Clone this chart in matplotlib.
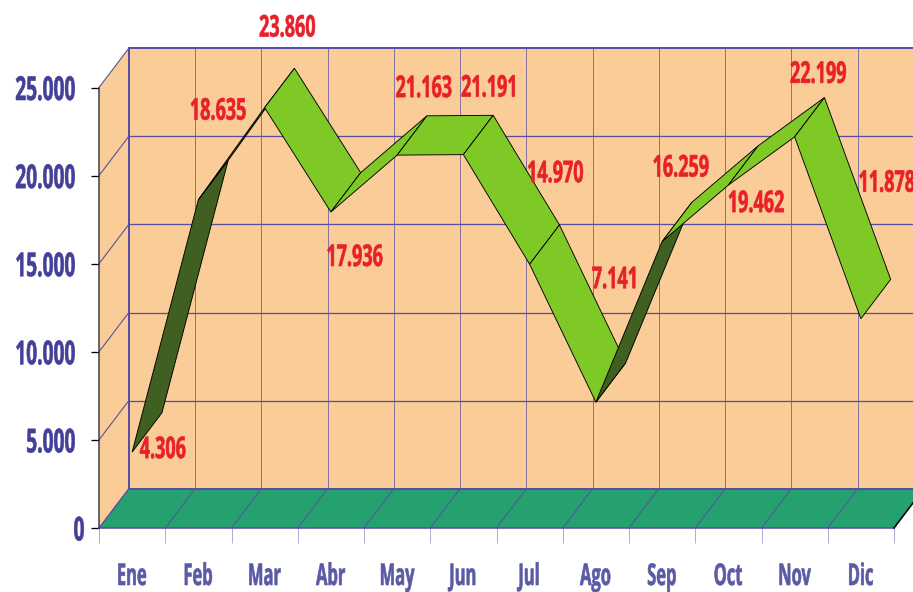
import matplotlib
matplotlib.use('Agg')
import matplotlib.pyplot as plt
from matplotlib.patches import Polygon
from matplotlib.patheffects import AbstractPathEffect
from matplotlib.transforms import Affine2D, Bbox, ScaledTranslation

months = ['Ene', 'Feb', 'Mar', 'Abr', 'May', 'Jun', 'Jul', 'Ago', 'Sep', 'Oct', 'Nov', 'Dic']
values = [4306, 18635, 23860, 17936, 21163, 21191, 14970, 7141, 16259, 19462, 22199, 11878]
y_ticks = [0, 5000, 10000, 15000, 20000, 25000]

W, H = 913, 592

# fake 3d depth, in data units
DX = 0.45
DY = 2230

WALL = '#f9cc98'
FLOOR = '#25a06f'
GRID = '#5a4f9e'
BRIGHT = '#7fc926'
DARK = '#3f6020'

# rising steep segments get the dark face
dark_segments = [0, 1, 7]
# label offsets from the front point of each month, px
label_dx = [31, 20, 23, 24, 27, 27, 26, 20, 19, 28, 24, 26]
label_dy = [2, 88, 79, -46, 66, 66, 90, 122, 73, -19, 62, 135]


# no condensed font installed, so squeeze the glyphs sideways
class Squeeze(AbstractPathEffect):
    def __init__(self, sx, anchor):
        super().__init__()
        self.sx = sx
        self.anchor = anchor

    def draw_path(self, renderer, gc, tpath, affine, rgbFace=None):
        shift = (1 - self.sx) * tpath.get_extents().x1 * self.anchor
        gc.set_linewidth(0.6)
        renderer.draw_path(gc, tpath, Affine2D().scale(self.sx, 1).translate(shift, 0) + affine, rgbFace)


def squeeze(text, sx, anchor):
    text.set_path_effects([Squeeze(sx, anchor)])
    full_extent = text.get_window_extent

    def narrow_extent(renderer=None, dpi=None):
        bb = full_extent(renderer, dpi)
        left = bb.x0 + (1 - sx) * bb.width * anchor
        return Bbox.from_extents(left, bb.y0, left + sx * bb.width, bb.y1)
    text.get_window_extent = narrow_extent


plt.rcParams['font.family'] = ['Open Sans', 'DejaVu Sans']
fig = plt.figure(figsize=(W / 72, H / 72), dpi=72)
ax = fig.add_axes([99 / W, (H - 528) / H, (894 - 99) / W, (528 - 87.5) / H])
ax.set_xlim(0, 12)
ax.set_ylim(0, 25000)
ax.patch.set_visible(False)

top = 25000

# walls and floor
ax.add_patch(Polygon([(DX, DY), (12 + DX + 1, DY), (12 + DX + 1, top + DY), (DX, top + DY)],
                     fc=WALL, ec='none', clip_on=False, zorder=1))
ax.add_patch(Polygon([(0, 0), (DX, DY), (DX, top + DY), (0, top)],
                     fc=WALL, ec='none', clip_on=False, zorder=1))
ax.add_patch(Polygon([(0, 0), (12, 0), (12 + DX, DY), (DX, DY)],
                     fc=FLOOR, ec='none', clip_on=False, zorder=1))

# grid on back wall, side wall and floor
for v in y_ticks:
    lw = 2 if v in (0, 25000) else 1.3
    ax.plot([DX, 12 + DX + 1], [v + DY, v + DY], color=GRID, lw=lw, clip_on=False, zorder=2)
    ax.plot([0, DX], [v, v + DY], color=GRID, lw=1.1, clip_on=False, zorder=2)
for k in range(13):
    ax.plot([k + DX, k + DX], [DY, top + DY], color=GRID, lw=2 if k == 0 else 0.9,
            alpha=1 if k == 0 else 0.8, clip_on=False, zorder=2)
    if k < 12:
        ax.plot([k, k + DX], [0, DY], color=GRID, lw=1, clip_on=False, zorder=2)
ax.plot([0, 12], [0, 0], color=GRID, lw=1.6, clip_on=False, zorder=3)
ax.plot([12, 12 + DX], [0, DY], color='black', lw=1.6, clip_on=False, zorder=3)

# ribbon, one face per month pair
for i in range(len(values) - 1):
    x0, x1 = i + 0.5, i + 1.5
    y0, y1 = values[i], values[i + 1]
    color = DARK if i in dark_segments else BRIGHT
    ax.add_patch(Polygon([(x0, y0), (x1, y1), (x1 + DX, y1 + DY), (x0 + DX, y0 + DY)],
                         fc=color, ec='black', lw=0.9, clip_on=False, zorder=4))

# value labels
for i, v in enumerate(values):
    txt = f'{v:,}'.replace(',', '.')
    t = ax.annotate(txt, (i + 0.5, v), xytext=(label_dx[i], label_dy[i]), textcoords='offset points',
                    ha='center', va='center', color='#e8202a', fontsize=30, fontweight='bold',
                    annotation_clip=False, zorder=5)
    squeeze(t, 0.6, 0.5)

# axes
for s in ['top', 'right', 'bottom']:
    ax.spines[s].set_visible(False)
ax.spines['left'].set_color('#3a3a50')
ax.spines['left'].set_linewidth(1.5)
ax.spines['left'].set_zorder(3)

ax.set_yticks(y_ticks)
ax.set_yticklabels([f'{v:,}'.replace(',', '.') for v in y_ticks])
ax.tick_params(axis='y', length=8, width=1.3, color='black', pad=15, labelcolor='#44409a', labelsize=33)
for lab in ax.get_yticklabels():
    lab.set_fontweight('bold')
    squeeze(lab, 0.58, 1)
# the 0 sits closer to the axis than the others
zero = ax.get_yticklabels()[0]
zero.set_transform(zero.get_transform() + ScaledTranslation(9 / 72, 0, fig.dpi_scale_trans))

ax.set_xticks(range(13))
ax.set_xticklabels([])
ax.set_xticks([i + 0.5 for i in range(12)], minor=True)
ax.set_xticklabels(months, minor=True)
ax.tick_params(axis='x', which='major', length=15, width=1, color='#b0acd6')
ax.tick_params(axis='x', which='minor', length=0, pad=34, labelcolor='#5a5aa5', labelsize=30)
for lab in ax.get_xticklabels(minor=True):
    lab.set_fontweight('bold')
    squeeze(lab, 0.55, 0.5)

fig.savefig('out.png', dpi=72)
